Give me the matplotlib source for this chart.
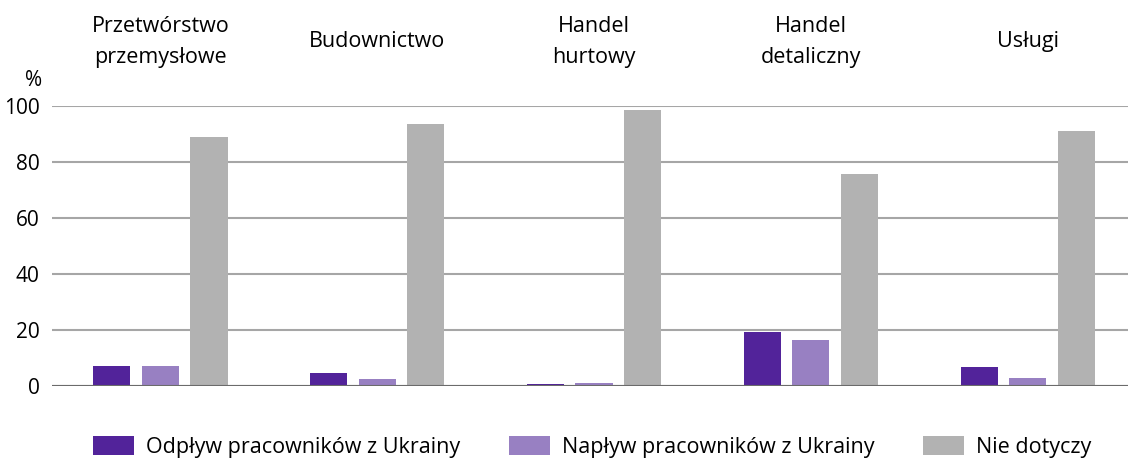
import matplotlib.pyplot as plt
import numpy as np

plt.rcParams['font.family'] = ['Open Sans', 'DejaVu Sans']

# Dane
kategorie = ['Przetwórstwo\nprzemysłowe', 'Budownictwo', 'Handel\nhurtowy',
             'Handel\ndetaliczny', 'Usługi']
odplyw = [6.8, 4.6, 0.7, 19.0, 6.5]
naplyw = [6.9, 2.4, 0.9, 16.3, 2.7]
nie_dotyczy = [88.9, 93.5, 98.6, 75.5, 91.1]
serie = ['Odpływ pracowników z Ukrainy', 'Napływ pracowników z Ukrainy', 'Nie dotyczy']
kolory = ['#52239a', '#9880c2', '#b2b2b2']

fig = plt.figure(figsize=(11.28, 4.59), dpi=100)
ax = fig.add_axes([52 / 1128, 1 - 385.5 / 459, (1128 - 52) / 1128, (385.5 - 106) / 459])

x = np.arange(len(kategorie))
w = 0.171
off = 0.224
for i, (vals, lab, c) in enumerate(zip([odplyw, naplyw, nie_dotyczy], serie, kolory)):
    ax.bar(x + (i - 1) * off, vals, width=w, color=c, label=lab, zorder=3)

ax.set_xlim(-0.5, 4.463)
ax.set_ylim(0, 100)
ax.set_yticks(range(0, 101, 20))
ax.yaxis.grid(True, color='#a6a6a6', linewidth=1.5, zorder=0)
ax.axhline(0, color='#6b6b6b', linewidth=1.5, zorder=4)
for s in ax.spines.values():
    s.set_visible(False)
ax.tick_params(axis='y', length=0, pad=9, labelsize=15)
ax.set_xticks([])

for xi, k in zip(x, kategorie):
    ax.text(xi, 1.229, k, transform=ax.get_xaxis_transform(), ha='center', va='center',
            fontsize=15.5, linespacing=1.6)

fig.text(34 / 1128, 1 - 80 / 459, '%', ha='center', va='center', fontsize=15)

fig.legend(loc='center', bbox_to_anchor=(0.525, 1 - 447 / 459), ncol=3, frameon=False,
           fontsize=15.5, handlelength=1.9, handleheight=0.93, handletextpad=0.56,
           columnspacing=2.28)

fig.savefig('out.png', dpi=100)
